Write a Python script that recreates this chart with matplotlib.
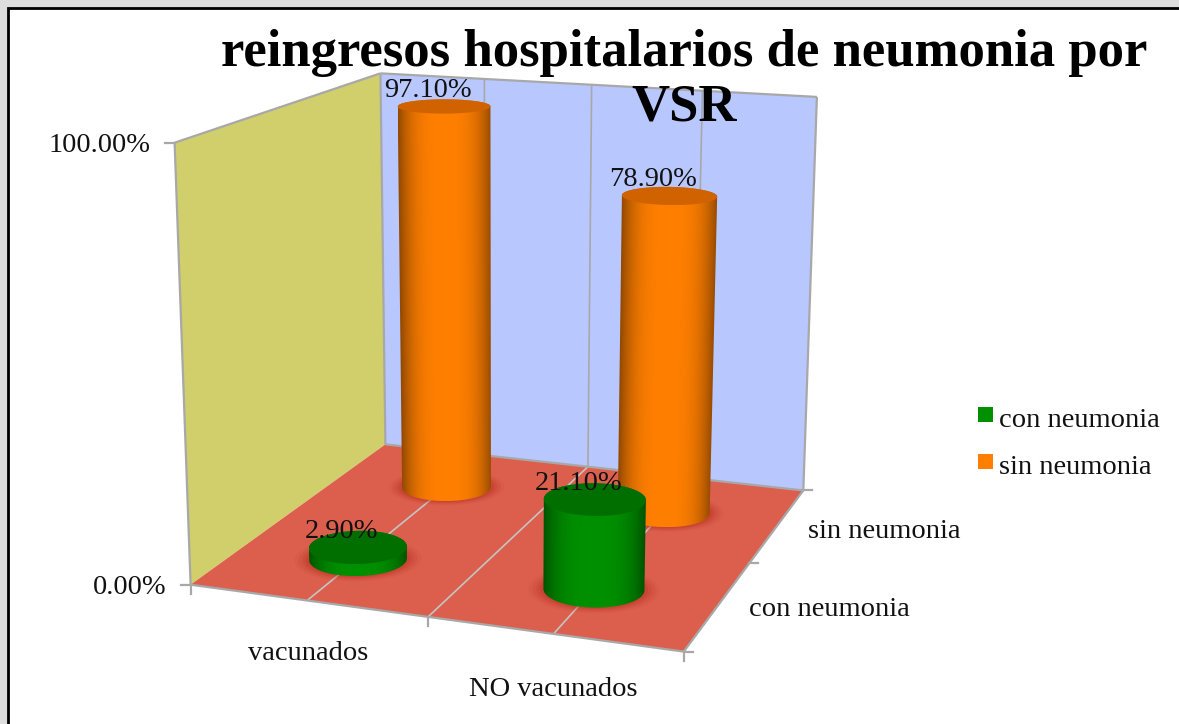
import matplotlib
matplotlib.use("Agg")
import matplotlib.pyplot as plt
from matplotlib.patches import Polygon
import numpy as np


CATEGORIES = ["vacunados", "NO vacunados"]
SERIES = ["con neumonia", "sin neumonia"]
CON_NEUMONIA = [0.029, 0.211]
SIN_NEUMONIA = [0.971, 0.789]
AXIS_TICKS = [0.0, 1.0]

FONT = "Liberation Serif"
ORANGE = "#FF7F00"
GREEN = "#009000"
ORANGE_TOP = "#D06200"
GREEN_TOP = "#006F00"
LINE = "#A8A8A8"
TEXT = "#111111"
LABEL_SIZE = 20.5

# screen position of the box corners (u, v, height) -> pixel
CORNERS = [
    ((0, 0, 0), (190, 584)),
    ((2, 0, 0), (684, 652)),
    ((2, 2, 0), (803, 490)),
    ((0, 2, 0), (386, 445)),
    ((0, 0, 1), (175, 143)),
    ((0, 2, 1), (380, 73)),
    ((2, 2, 1), (817, 97)),
]


def fit_projection(corners):
    rows = []
    rhs = []
    for (u, v, h), (x, y) in corners:
        rows.append([u, v, h, 1, 0, 0, 0, 0, -x * u, -x * v, -x * h])
        rhs.append(x)
        rows.append([0, 0, 0, 0, u, v, h, 1, -y * u, -y * v, -y * h])
        rhs.append(y)
    p = np.linalg.lstsq(np.array(rows, float), np.array(rhs, float), rcond=None)[0]
    return np.append(p, 1.0).reshape(3, 4)


P = fit_projection(CORNERS)


def project(u, v, h):
    u, v, h = np.broadcast_arrays(u, v, h)
    pts = np.stack([u, v, h, np.ones_like(u, dtype=float)])
    out = P @ pts
    return out[0] / out[2], out[1] / out[2]


def quad(ax, pts, color, z):
    xs, ys = zip(*[project(*p) for p in pts])
    ax.fill(xs, ys, color=color, lw=0, zorder=z)


def seg(ax, a, b, z=2, lw=1.6, color=LINE):
    xa, ya = project(*a)
    xb, yb = project(*b)
    ax.plot([xa, xb], [ya, yb], color=color, lw=lw, zorder=z, solid_capstyle="butt")


def cylinder(ax, u, v, value, color, top_color, z):
    ru, rv = 0.197, 0.2
    theta = np.linspace(0, 2 * np.pi, 360, endpoint=False)
    cu = u + ru * np.cos(theta)
    cv = v + rv * np.sin(theta)

    # soft shadow on the floor
    for k, a in zip([1.3, 1.22, 1.14, 1.07], [0.07, 0.1, 0.14, 0.18]):
        sx, sy = project(u + k * ru * np.cos(theta), v + k * rv * np.sin(theta), 0)
        ax.fill(sx, sy, color="#B02010", alpha=a, lw=0, zorder=z)

    bx, by = project(cu, cv, 0)
    tx, ty = project(cu, cv, value)

    # outline: back arc of the top circle, front arc of the base circle
    r = np.argmax(tx)
    tx2, ty2 = np.roll(tx, -r), np.roll(ty, -r)
    top_arc = np.argmin(tx2) + 1
    l = np.argmin(bx)
    bx2, by2 = np.roll(bx, -l), np.roll(by, -l)
    base_arc = np.argmax(bx2) + 1
    outline = np.column_stack([
        np.r_[tx2[:top_arc], bx2[:base_arc]],
        np.r_[ty2[:top_arc], by2[:base_arc]],
    ])

    # side shading, follows the taper of the cylinder
    y0, y1 = outline[:, 1].min(), outline[:, 1].max()
    x0, x1 = outline[:, 0].min(), outline[:, 0].max()
    nx, ny = int(x1 - x0 + 1) * 2, int(y1 - y0 + 1)
    X, Y = np.meshgrid(np.linspace(x0, x1, nx), np.linspace(y0, y1, ny))
    s = (Y - ty.mean()) / max(by.mean() - ty.mean(), 1)
    left = tx.min() + (bx.min() - tx.min()) * s
    right = tx.max() + (bx.max() - tx.max()) * s
    t = np.clip(np.abs((X - (left + right) / 2) / ((right - left) / 2)), 0, 1)
    f = 1 - 0.42 * t ** 3
    rgb = np.array(matplotlib.colors.to_rgb(color))
    img = ax.imshow(f[..., None] * rgb, extent=(x0, x1, y1, y0), aspect="auto",
                    interpolation="bilinear", zorder=z + 0.1)
    img.set_clip_path(Polygon(outline, transform=ax.transData))
    ax.fill(tx, ty, color=top_color, lw=0, zorder=z + 0.2)


def main():
    plt.rcParams["font.family"] = [FONT, "DejaVu Serif"]

    fig = plt.figure(figsize=(11.79, 7.24), dpi=100, facecolor="#DEDEDE")
    ax = fig.add_axes([0, 0, 1, 1])
    ax.axis("off")

    # chart frame, runs off the right and bottom of the picture
    ax.fill([8, 1200, 1200, 8], [8, 8, 740, 740], facecolor="white", edgecolor="black", lw=2, zorder=0)

    # walls and floor
    quad(ax, [(0, 0, 0), (0, 2, 0), (0, 2, 1), (0, 0, 1)], "#D0CF6B", 1)
    quad(ax, [(0, 2, 0), (2, 2, 0), (2, 2, 1), (0, 2, 1)], "#B9C7FF", 1)
    quad(ax, [(0, 0, 0), (2, 0, 0), (2, 2, 0), (0, 2, 0)], "#DC5F4E", 1)

    # gridlines
    for u in [0.5, 1.0, 1.5]:
        seg(ax, (u, 0, 0), (u, 2, 0), lw=1.2, color="#C4C4C4")
        seg(ax, (u, 2, 0), (u, 2, 1), lw=1.2)

    # box edges
    seg(ax, (0, 0, 0), (2, 0, 0))
    seg(ax, (2, 0, 0), (2, 2, 0))
    seg(ax, (0, 0, 0), (0, 0, 1))
    seg(ax, (0, 0, 1), (0, 2, 1))
    seg(ax, (0, 2, 1), (2, 2, 1))
    seg(ax, (0, 2, 0), (0, 2, 1))
    seg(ax, (2, 2, 0), (2, 2, 1))
    seg(ax, (0, 2, 0), (2, 2, 0))

    # ticks
    for h in AXIS_TICKS:
        x, y = project(0, 0, h)
        ax.plot([x - 10, x], [y, y], color=LINE, lw=1.6, zorder=2)
        ax.text(x - 24, y + 3, f"{h * 100:.2f}%", ha="right", va="center", fontsize=LABEL_SIZE, color=TEXT, zorder=6)
    for u in [0, 1, 2]:
        x, y = project(u, 0, 0)
        ax.plot([x, x], [y, y + 9], color=LINE, lw=1.6, zorder=2)
    for v in [0, 1, 2]:
        x, y = project(2, v, 0)
        ax.plot([x, x + 9], [y, y], color=LINE, lw=1.6, zorder=2)

    # cylinders, back row first
    z = 3
    for values, color, top, v in [
        (SIN_NEUMONIA, ORANGE, ORANGE_TOP, 1.5),
        (CON_NEUMONIA, GREEN, GREEN_TOP, 0.5),
    ]:
        for i, val in enumerate(values):
            cylinder(ax, i + 0.5, v, val, color, top, z)
            z += 0.5

    # data labels
    for values, v in [(SIN_NEUMONIA, 1.5), (CON_NEUMONIA, 0.5)]:
        for i, val in enumerate(values):
            x, y = project(i + 0.5, v, val)
            ax.text(x - 16, y - 16, f"{val * 100:.2f}%", ha="center", va="center", fontsize=LABEL_SIZE, color=TEXT, zorder=7)

    # category labels
    ax.text(308, 653, CATEGORIES[0], ha="center", va="center", fontsize=LABEL_SIZE, color=TEXT)
    ax.text(553, 690, CATEGORIES[1], ha="center", va="center", fontsize=LABEL_SIZE, color=TEXT)
    ax.text(829, 610, SERIES[0], ha="center", va="center", fontsize=LABEL_SIZE, color=TEXT)
    ax.text(884, 531, SERIES[1], ha="center", va="center", fontsize=LABEL_SIZE, color=TEXT)

    # legend
    for name, color, y in zip(SERIES, [GREEN, ORANGE], [407, 454]):
        ax.fill([978, 993, 993, 978], [y, y, y + 15, y + 15], color=color, lw=0, zorder=6)
        ax.text(999, y + 13.5, name, ha="left", va="center", fontsize=LABEL_SIZE, color=TEXT, zorder=6)

    ax.text(684, 80, "reingresos hospitalarios de neumonia por\nVSR", ha="center", va="center", fontsize=38,
            fontweight="bold", color="black", linespacing=1.18, zorder=8)

    ax.set_xlim(0, 1179)
    ax.set_ylim(724, 0)

    fig.savefig("out.png", dpi=100, facecolor=fig.get_facecolor())
    plt.close(fig)


if __name__ == "__main__":
    main()
